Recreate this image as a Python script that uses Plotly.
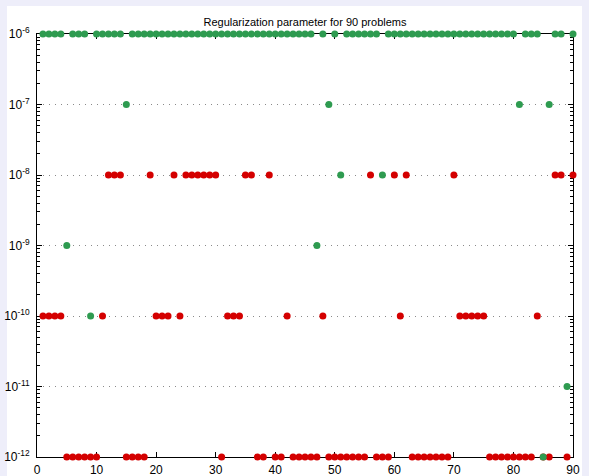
import plotly.graph_objects as go

# problem index
problems = list(range(1, 91))

# regularization parameter chosen by the first method (red)
reg_red = [
    1e-10, 1e-10, 1e-10, 1e-10, 1e-12, 1e-12, 1e-12, 1e-12, 1e-12, 1e-12,
    1e-10, 1e-8, 1e-8, 1e-8, 1e-12, 1e-12, 1e-12, 1e-12, 1e-8, 1e-10,
    1e-10, 1e-10, 1e-8, 1e-10, 1e-8, 1e-8, 1e-8, 1e-8, 1e-8, 1e-8,
    1e-12, 1e-10, 1e-10, 1e-10, 1e-8, 1e-8, 1e-12, 1e-12, 1e-8, 1e-12,
    1e-12, 1e-10, 1e-12, 1e-12, 1e-12, 1e-12, 1e-12, 1e-10, 1e-12, 1e-12,
    1e-12, 1e-12, 1e-12, 1e-12, 1e-12, 1e-8, 1e-12, 1e-12, 1e-12, 1e-8,
    1e-10, 1e-8, 1e-12, 1e-12, 1e-12, 1e-12, 1e-12, 1e-12, 1e-12, 1e-8,
    1e-10, 1e-10, 1e-10, 1e-10, 1e-10, 1e-12, 1e-12, 1e-12, 1e-12, 1e-12,
    1e-12, 1e-12, 1e-12, 1e-10, 1e-12, 1e-12, 1e-8, 1e-8, 1e-12, 1e-8,
]

# regularization parameter chosen by the second method (green)
reg_green = [
    1e-6, 1e-6, 1e-6, 1e-6, 1e-9, 1e-6, 1e-6, 1e-6, 1e-10, 1e-6,
    1e-6, 1e-6, 1e-6, 1e-6, 1e-7, 1e-6, 1e-6, 1e-6, 1e-6, 1e-6,
    1e-6, 1e-6, 1e-6, 1e-6, 1e-6, 1e-6, 1e-6, 1e-6, 1e-6, 1e-6,
    1e-6, 1e-6, 1e-6, 1e-6, 1e-6, 1e-6, 1e-6, 1e-6, 1e-6, 1e-6,
    1e-6, 1e-6, 1e-6, 1e-6, 1e-6, 1e-6, 1e-9, 1e-6, 1e-7, 1e-6,
    1e-8, 1e-6, 1e-6, 1e-6, 1e-6, 1e-6, 1e-6, 1e-8, 1e-6, 1e-6,
    1e-6, 1e-6, 1e-6, 1e-6, 1e-6, 1e-6, 1e-6, 1e-6, 1e-6, 1e-6,
    1e-6, 1e-6, 1e-6, 1e-6, 1e-6, 1e-6, 1e-6, 1e-6, 1e-6, 1e-6,
    1e-7, 1e-6, 1e-6, 1e-6, 1e-12, 1e-7, 1e-6, 1e-6, 1e-11, 1e-6,
]

y_tick_vals = [1e-12, 1e-11, 1e-10, 1e-9, 1e-8, 1e-7, 1e-6]
y_tick_text = ["10<sup>-12</sup>", "10<sup>-11</sup>", "10<sup>-10</sup>",
               "10<sup>-9</sup>", "10<sup>-8</sup>", "10<sup>-7</sup>",
               "10<sup>-6</sup>"]
x_tick_vals = [0, 10, 20, 30, 40, 50, 60, 70, 80, 90]

# minor log ticks: 2..9 within every decade
y_minor_vals = [m * d for d in y_tick_vals[:-1] for m in range(2, 10)]

RED = "#d40000"
GREEN = "#2e9b50"
FONT = "Liberation Sans, Arial, sans-serif"
Y_RANGE = [-12.000001, -5.999999]

fig = go.Figure()
fig.add_trace(go.Scatter(
    x=problems, y=reg_red, mode="markers",
    marker=dict(color=RED, size=7, line=dict(width=0)),
    cliponaxis=False, showlegend=False,
))
fig.add_trace(go.Scatter(
    x=problems, y=reg_green, mode="markers",
    marker=dict(color=GREEN, size=7, line=dict(width=0)),
    cliponaxis=False, showlegend=False,
))
# empty trace that only anchors the minor-tick axis
fig.add_trace(go.Scatter(
    x=[None], y=[None], yaxis="y2", mode="markers",
    showlegend=False, hoverinfo="skip",
))

W, H = 589, 476
ml, mr, mt, mb = 37, 16, 34, 19
pw, ph = W - ml - mr, H - mt - mb

# white figure panel on the lavender page
fig.add_shape(
    type="rect", xref="paper", yref="paper", layer="below",
    x0=(7 - ml) / pw, x1=(582 - ml) / pw,
    y0=-mb / ph, y1=(H - mb - 6) / ph,
    fillcolor="white", line=dict(width=0),
)

fig.update_layout(
    width=W, height=H,
    margin=dict(l=ml, r=mr, t=mt, b=mb, pad=0, autoexpand=False),
    paper_bgcolor="#eeeefa",
    plot_bgcolor="white",
    font=dict(family=FONT, size=11, color="black"),
    title=dict(
        text="Regularization parameter for 90 problems",
        x=(ml + pw / 2) / W, xanchor="center",
        y=1 - 22 / H, yanchor="middle",
        font=dict(family=FONT, size=11, color="black"),
    ),
    yaxis2=dict(
        type="log", range=Y_RANGE, overlaying="y", side="left", anchor="x",
        tickvals=y_minor_vals, showticklabels=False,
        ticks="inside", ticklen=3, tickcolor="black", tickwidth=1,
        mirror="allticks", showline=False, showgrid=False, zeroline=False,
        automargin=False, layer="below traces",
    ),
)

fig.update_xaxes(
    range=[0, 90], tickvals=x_tick_vals,
    showgrid=False, zeroline=False, automargin=False,
    showline=True, linecolor="black", linewidth=1, mirror="ticks",
    ticks="inside", ticklen=5, tickcolor="black",
    tickfont=dict(family=FONT, size=12, color="black"),
    ticklabelstandoff=2,
    layer="below traces",
)

# log axis spanning 1e-12 .. 1e-6 (tiny pad so edge points stay visible)
fig.update_layout(yaxis=dict(
    type="log", range=Y_RANGE,
    tickvals=y_tick_vals, ticktext=y_tick_text,
    showgrid=True, gridcolor="#8a8a8a", gridwidth=1, griddash="1px,5px",
    zeroline=False, automargin=False,
    showline=True, linecolor="black", linewidth=1, mirror="allticks",
    ticks="inside", ticklen=5, tickcolor="black",
    tickfont=dict(family=FONT, size=12, color="black"),
    ticklabelstandoff=4,
    layer="below traces",
))

fig.write_html("out.html")
